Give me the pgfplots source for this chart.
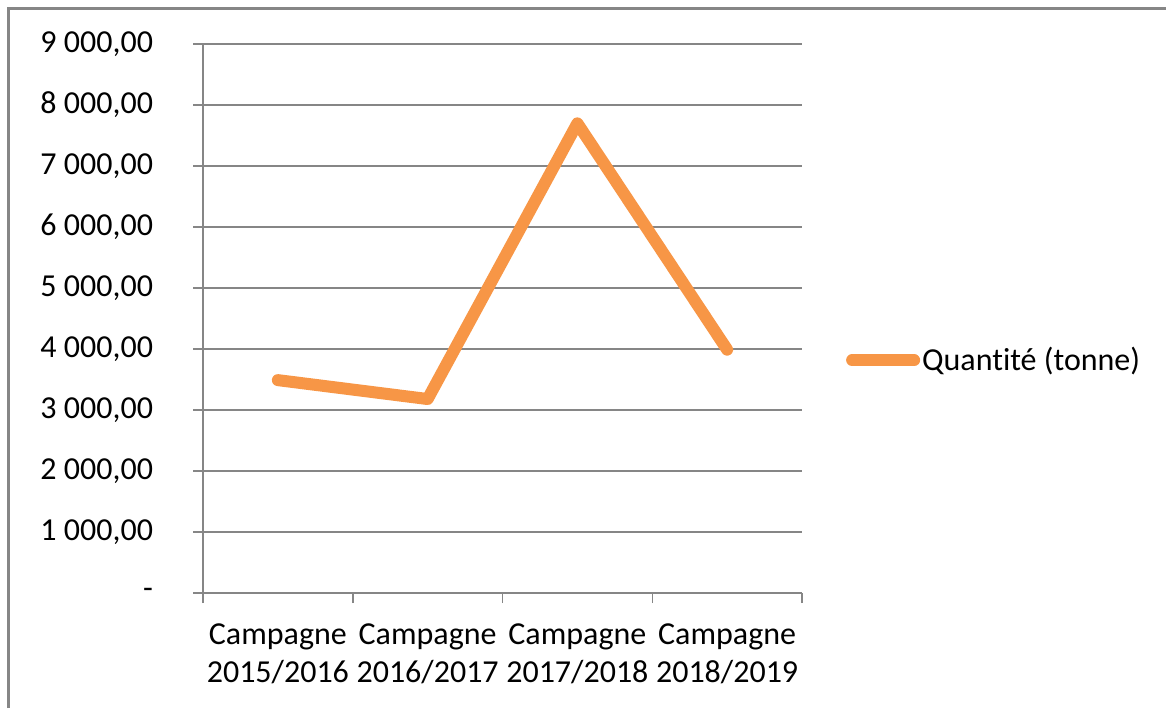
\documentclass[border=0pt]{standalone}
\usepackage{fontspec}
\setmainfont{Carlito}[Ligatures=NoCommon, RawFeature={-liga;-clig;-calt;-dlig}]
\usepackage{pgfplots}
\pgfplotsset{compat=1.18}
\definecolor{lineorange}{HTML}{F79646}
\definecolor{gridgray}{HTML}{868686}
\begin{document}
\begin{tikzpicture}
\useasboundingbox (0,0) rectangle (583pt,-354pt);
\draw[gridgray, line width=1.5pt] (4pt,-354pt) -- (4pt,-4pt) -- (583pt,-4pt);
\begin{axis}[
  at={(101.5pt,-296.5pt)}, anchor=south west,
  scale only axis, width=299.5pt, height=274.5pt,
  xmin=0, xmax=4, ymin=0, ymax=9000,
  axis x line*=bottom, axis y line*=left,
  axis line style={gridgray, line width=0.75pt},
  xtick={0.5,1.5,2.5,3.5},
  xticklabels={Campagne\\2015/2016,Campagne\\2016/2017,Campagne\\2017/2018,Campagne\\2018/2019},
  minor xtick={0,1,2,3,4},
  ytick={0,1000,...,9000},
  yticklabels={-,{1 000,00},{2 000,00},{3 000,00},{4 000,00},{5 000,00},{6 000,00},{7 000,00},{8 000,00},{9 000,00}},
  ymajorgrids, grid style={gridgray, line width=0.75pt},
  tick align=outside, major tick length=5pt, minor tick length=5pt,
  major x tick style={draw=none},
  minor x tick style={draw=gridgray, line width=0.75pt},
  major y tick style={draw=gridgray, line width=0.75pt},
  tick label style={font=\fontsize{16pt}{19pt}\selectfont, text=black},
  xticklabel style={align=center, anchor=north, yshift=-7pt},
  yticklabel style={anchor=east, xshift=-16.5pt},
  legend style={at={(1.073,0.424)}, anchor=west, draw=none, fill=none,
    font=\fontsize{16pt}{19pt}\selectfont, inner sep=0pt,
    nodes={inner xsep=1pt}},
  legend image code/.code={\draw[#1, line width=6pt, line cap=round] (0pt,0pt) -- (31pt,0pt);},
  clip=false,
]
\addplot[color=lineorange, line width=6pt, line cap=round, line join=round]
  coordinates {(0.5,3490) (1.5,3180) (2.5,7700) (3.5,3990)};
\addlegendentry{Quant\kern0pt ité (tonne)}
\end{axis}
\end{tikzpicture}
\end{document}
